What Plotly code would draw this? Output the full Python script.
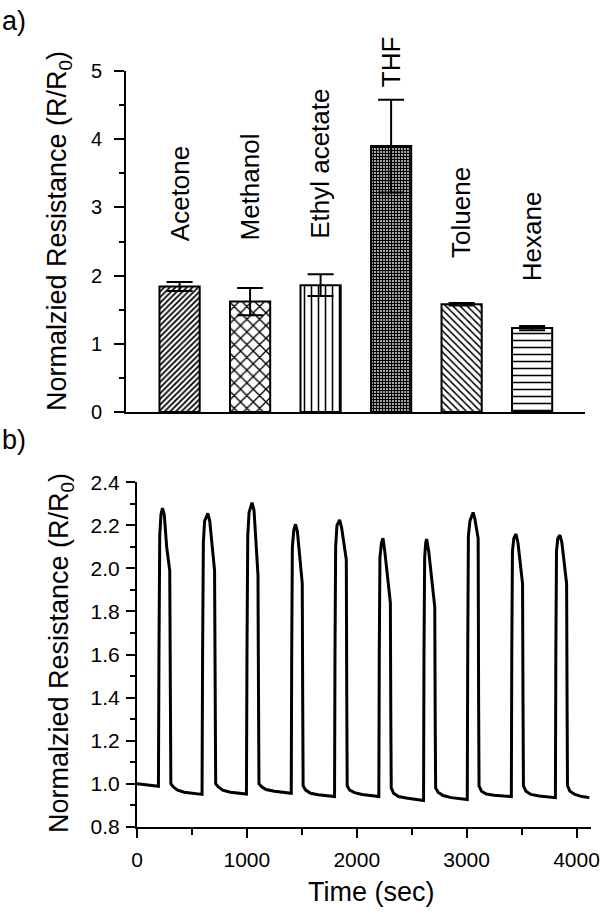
import plotly.graph_objects as go

# ---------------- Panel a data ----------------
solvents = ["Acetone", "Methanol", "Ethyl acetate", "THF", "Toluene", "Hexane"]
response = [1.84, 1.62, 1.86, 3.90, 1.58, 1.23]
response_err = [0.065, 0.20, 0.16, 0.68, 0.02, 0.03]

# ---------------- Panel b data ----------------
time_s = [
    0, 100, 195, 200, 207, 218, 232, 248, 270, 298, 303, 308, 330, 370, 430, 520, 592,
    597, 604, 615, 645, 662, 685, 706, 712, 716, 740, 780, 850, 930, 996,
    1001, 1008, 1020, 1047, 1065, 1085, 1101, 1106, 1110, 1135, 1175, 1250, 1330, 1404,
    1408, 1414, 1428, 1443, 1460, 1480, 1504, 1508, 1512, 1535, 1580, 1650, 1720, 1798,
    1802, 1808, 1820, 1844, 1862, 1885, 1905, 1909, 1913, 1935, 1980, 2050, 2130, 2201,
    2205, 2211, 2225, 2239, 2255, 2280, 2306, 2310, 2314, 2335, 2380, 2450, 2530, 2608,
    2612, 2618, 2628, 2636, 2655, 2680, 2710, 2714, 2718, 2740, 2785, 2860, 2940, 3006,
    3010, 3016, 3030, 3059, 3075, 3092, 3105, 3109, 3113, 3135, 3180, 3250, 3330, 3407,
    3411, 3417, 3430, 3449, 3467, 3490, 3509, 3513, 3517, 3540, 3585, 3660, 3740, 3808,
    3812, 3818, 3830, 3849, 3867, 3890, 3910, 3914, 3918, 3940, 3985, 4050, 4117,
]
resistance = [
    1.000, 0.995, 0.988, 1.60, 2.15, 2.25, 2.28, 2.25, 2.10, 1.99, 1.40, 1.00, 0.985, 0.970, 0.960, 0.953, 0.950,
    1.60, 2.12, 2.22, 2.256, 2.22, 2.10, 1.99, 1.40, 1.00, 0.985, 0.970, 0.960, 0.955, 0.952,
    1.60, 2.15, 2.26, 2.305, 2.27, 2.12, 1.97, 1.40, 1.00, 0.985, 0.973, 0.965, 0.960, 0.955,
    1.60, 2.10, 2.18, 2.205, 2.17, 2.06, 1.93, 1.40, 0.99, 0.970, 0.955, 0.948, 0.944, 0.940,
    1.60, 2.10, 2.20, 2.225, 2.19, 2.10, 2.04, 1.40, 0.99, 0.970, 0.958, 0.950, 0.945, 0.940,
    1.60, 2.05, 2.12, 2.14, 2.08, 1.95, 1.84, 1.30, 0.98, 0.955, 0.940, 0.933, 0.928, 0.922,
    1.60, 2.05, 2.12, 2.136, 2.08, 1.95, 1.82, 1.30, 0.98, 0.960, 0.945, 0.935, 0.930, 0.926,
    1.60, 2.15, 2.22, 2.26, 2.23, 2.18, 2.14, 1.40, 0.99, 0.965, 0.952, 0.946, 0.942, 0.940,
    1.60, 2.08, 2.14, 2.16, 2.12, 2.03, 1.93, 1.40, 0.99, 0.965, 0.950, 0.943, 0.938, 0.935,
    1.60, 2.08, 2.14, 2.155, 2.12, 2.03, 1.93, 1.40, 0.99, 0.965, 0.950, 0.940, 0.935,
]

# ---------------- styles ----------------
FONT = "Liberation Sans, Arial, sans-serif"
patterns = ["/", "x", "|", "+", "\\", "-"]
pattern_size = [4, 9, 7, 3, 5, 7]
pattern_solid = [0.45, 0.28, 0.22, 0.68, 0.3, 0.22]
label_shift = [39, 45, 33, 10, 43, 43]

fig = go.Figure()

fig.add_trace(go.Bar(
    x=solvents, y=response,
    width=0.57,
    marker=dict(
        color="white",
        line=dict(color="black", width=2),
        pattern=dict(shape=patterns, size=pattern_size, solidity=pattern_solid,
                     fgcolor="black", bgcolor="white", fillmode="replace"),
    ),
    error_y=dict(type="data", array=response_err, color="black", thickness=2, width=13),
    xaxis="x", yaxis="y", showlegend=False,
))

fig.add_trace(go.Scatter(
    x=time_s, y=resistance, mode="lines",
    line=dict(color="black", width=3),
    xaxis="x2", yaxis="y2", showlegend=False,
))

annotations = []
for name, v, e, s in zip(solvents, response, response_err, label_shift):
    annotations.append(dict(
        x=name, y=v + e, xref="x", yref="y", text=name, showarrow=False,
        textangle=-90, xanchor="center", yanchor="bottom", yshift=s,
        font=dict(family=FONT, size=26, color="black"),
    ))

annotations += [
    dict(x=59 / 612, y=1 - 231 / 912, xref="paper", yref="paper",
         text="Normalzied Resistance (R/R<sub>0</sub>)", showarrow=False, textangle=-90,
         xanchor="center", yanchor="middle", font=dict(family=FONT, size=27, color="black")),
    dict(x=61 / 612, y=1 - 653 / 912, xref="paper", yref="paper",
         text="Normalzied Resistance (R/R<sub>0</sub>)", showarrow=False, textangle=-90,
         xanchor="center", yanchor="middle", font=dict(family=FONT, size=27, color="black")),
    dict(x=372 / 612, y=1 - 892 / 912, xref="paper", yref="paper",
         text="Time (sec)", showarrow=False,
         xanchor="center", yanchor="middle", font=dict(family=FONT, size=27, color="black")),
    dict(x=0.0, y=1 - 21 / 912, xref="paper", yref="paper",
         text="a)", showarrow=False, xanchor="left", yanchor="middle",
         font=dict(family=FONT, size=27, color="black")),
    dict(x=0.0, y=1 - 440 / 912, xref="paper", yref="paper",
         text="b)", showarrow=False, xanchor="left", yanchor="middle",
         font=dict(family=FONT, size=27, color="black")),
]

axis_common = dict(showgrid=False, zeroline=False, showline=True, linecolor="black",
                   linewidth=2, ticks="outside", tickcolor="black", tickwidth=2,
                   automargin=False)

fig.update_layout(
    template="none",
    width=612, height=912,
    margin=dict(l=0, r=0, t=0, b=0, pad=0),
    paper_bgcolor="white", plot_bgcolor="white",
    font=dict(family=FONT, color="black"),
    xaxis=dict(domain=[126 / 612, 585 / 612], anchor="y", range=[-0.76, 5.75],
               showgrid=False, zeroline=False, showline=True, linecolor="black",
               linewidth=2, ticks="", showticklabels=False, type="category",
               automargin=False),
    yaxis=dict(domain=[1 - 412 / 912, 1 - 71 / 912], anchor="x", range=[0, 5],
               dtick=1, ticklen=10, ticklabelstandoff=8,
               tickfont=dict(family=FONT, color="black", size=20),
               minor=dict(dtick=0.5, ticks="outside", ticklen=5, tickcolor="black", tickwidth=2),
               **axis_common),
    xaxis2=dict(domain=[137 / 612, 591 / 612], anchor="y2", range=[0, 4132],
                dtick=1000, ticklen=9, ticklabelstandoff=4,
                tickfont=dict(family=FONT, color="black", size=21),
                minor=dict(dtick=500, ticks="outside", ticklen=6, tickcolor="black", tickwidth=2),
                **axis_common),
    yaxis2=dict(domain=[1 - 826.7 / 912, 1 - 482.3 / 912], anchor="x2", range=[0.8, 2.4],
                dtick=0.2, tickformat=".1f", ticklen=9, ticklabelstandoff=2,
                tickfont=dict(family=FONT, color="black", size=21),
                minor=dict(dtick=0.1, ticks="outside", ticklen=5, tickcolor="black", tickwidth=2),
                **axis_common),
    annotations=annotations,
)

fig.write_html("out.html", config={"displayModeBar": False},
               post_script="document.body.style.margin='0';document.body.style.overflow='hidden';")
